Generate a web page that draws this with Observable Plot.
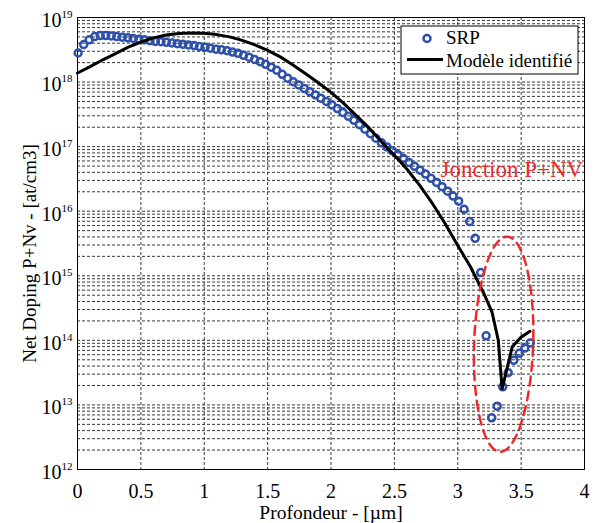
<!DOCTYPE html>
<html><head><meta charset="utf-8">
<script src="https://cdn.jsdelivr.net/npm/d3@7"></script>
<script src="https://cdn.jsdelivr.net/npm/@observablehq/plot@0.6"></script>
<style>
body{margin:0;background:#fff;}
#chart{position:relative;width:603px;height:523px;}
#chart svg text, #chart svg tspan { font-family: "Liberation Serif", "Times New Roman", Times, serif; }
</style>
</head><body><div id="chart"></div>
<script>
// ---- Data ----
const srpDepth = [0.005,0.049,0.092,0.136,0.179,0.223,0.266,0.310,0.353,0.397,0.440,0.484,0.527,0.571,0.614,0.658,0.701,0.745,0.788,0.832,0.875,0.919,0.962,1.006,1.049,1.093,1.136,1.180,1.223,1.267,1.310,1.354,1.397,1.441,1.484,1.528,1.571,1.615,1.658,1.702,1.745,1.789,1.832,1.876,1.919,1.963,2.006,2.050,2.093,2.137,2.180,2.224,2.267,2.311,2.354,2.398,2.441,2.485,2.528,2.572,2.615,2.659,2.702,2.746,2.789,2.833,2.876,2.920,2.963,3.007,3.050,3.094,3.137,3.181,3.224,3.268,3.311,3.355,3.398,3.442,3.485,3.529,3.572];
const srpLogDoping = [18.45,18.58,18.655,18.705,18.72,18.72,18.715,18.705,18.695,18.685,18.675,18.665,18.655,18.64,18.63,18.625,18.615,18.605,18.595,18.585,18.575,18.565,18.55,18.54,18.525,18.51,18.50,18.485,18.465,18.445,18.415,18.385,18.35,18.315,18.275,18.23,18.185,18.12,18.06,18.005,17.955,17.90,17.85,17.80,17.75,17.70,17.65,17.59,17.53,17.47,17.41,17.34,17.27,17.20,17.13,17.06,16.995,16.935,16.875,16.815,16.755,16.695,16.635,16.575,16.51,16.445,16.38,16.31,16.235,16.155,16.03,15.84,15.58,15.05,14.07,12.80,12.98,13.28,13.50,13.69,13.80,13.88,13.96];
const modelDepth = [0,0.1,0.2,0.3,0.4,0.5,0.6,0.7,0.8,0.9,1.0,1.1,1.2,1.3,1.4,1.5,1.6,1.7,1.8,1.9,2.0,2.1,2.2,2.3,2.4,2.5,2.6,2.7,2.8,2.9,3.0,3.1,3.2,3.27,3.32,3.35,3.43,3.50,3.57];
const modelLogDoping = [18.14,18.24,18.345,18.44,18.54,18.62,18.685,18.73,18.752,18.76,18.755,18.735,18.70,18.645,18.575,18.49,18.39,18.265,18.13,17.99,17.84,17.67,17.48,17.29,17.07,16.865,16.65,16.40,16.12,15.81,15.47,15.14,14.75,14.44,14.0,13.25,13.9,14.05,14.14];
const seriesNames = ["SRP", "Modèle identifié"];
const xTicks = [0,0.5,1,1.5,2,2.5,3,3.5,4];
const yMajorTicks = [1e12,1e13,1e14,1e15,1e16,1e17,1e18,1e19];
const yMinorMultipliers = [2,3,4,5,6,7,8,9];
const xLabel = "Profondeur - [µm]";
const yLabel = "Net Doping P+Nv - [at/cm3]";
const annotation = {label: "Jonction P+NV", depth: 3.99, logDoping: 16.65};
const junctionEllipse = {depth: 3.362, logDoping: 13.94, rDepth: 0.234, rLog: 1.664, shearDepth: 0.016, shearLog: 0.077};

// ---- Build tables ----
const srp = srpDepth.map((d, i) => ({depth: d, doping: 10 ** srpLogDoping[i]}));
const model = modelDepth.map((d, i) => ({depth: d, doping: 10 ** modelLogDoping[i]}));
const yGridTicks = [];
yMajorTicks.forEach(t => { yGridTicks.push(t); if (t < 1e19) yMinorMultipliers.forEach(m => yGridTicks.push(t * m)); });
const ellipsePts = d3.range(0, 97).map(k => {
  const a = k / 96 * 2 * Math.PI;
  const e = junctionEllipse;
  return {depth: e.depth + e.rDepth * Math.cos(a) + e.shearDepth * Math.sin(a),
          doping: 10 ** (e.logDoping + e.rLog * Math.sin(a) + e.shearLog * Math.cos(a))};
});

const blue = "#2f50aa";
const red = "#ec2a2e";
const serif = "Liberation Serif, Times New Roman, Times, serif";

const svg = Plot.plot({
  width: 603, height: 523,
  marginTop: 17, marginBottom: 54, marginLeft: 77, marginRight: 19,
  style: {fontFamily: serif, fontSize: "20px", background: "white", color: "black", overflow: "visible"},
  x: {domain: [0, 4]},
  y: {type: "log", domain: [1e12, 1e19]},
  marks: [
    Plot.gridY(yGridTicks, {stroke: "#222", strokeOpacity: 0.9, strokeWidth: 1, strokeDasharray: "3,2"}),
    Plot.gridX(xTicks, {stroke: "#222", strokeOpacity: 0.9, strokeWidth: 1, strokeDasharray: "3,2"}),
    Plot.frame({stroke: "black", strokeWidth: 1}),
    Plot.axisX(xTicks, {tickSize: 0, tickPadding: 14, tickFormat: d => String(d), label: null, fontSize: 20}),
    Plot.axisY(yMajorTicks, {tickSize: 0, tickPadding: 5, tickFormat: d => "10^" + Math.round(Math.log10(d)), label: null, dy: 3, fontSize: 20}),
    Plot.dot(srp, {x: "depth", y: "doping", r: 3.5, stroke: blue, strokeWidth: 2.5, fill: "none"}),
    Plot.line(model, {x: "depth", y: "doping", stroke: "black", strokeWidth: 3}),
    Plot.line(ellipsePts, {x: "depth", y: "doping", stroke: red, strokeWidth: 2.5, strokeDasharray: "9,6"}),
    Plot.text([annotation], {x: "depth", y: d => 10 ** d.logDoping, text: "label", textAnchor: "end", fill: red, fontSize: 23}),
    Plot.text([xLabel], {frameAnchor: "bottom", text: d => d, textAnchor: "middle", lineAnchor: "middle", dy: 43, fontSize: 19.5}),
    Plot.text([yLabel], {frameAnchor: "left", text: d => d, textAnchor: "middle", lineAnchor: "middle", rotate: -90, dx: -48, dy: 10, fontSize: 19})
  ]
});
document.getElementById("chart").append(svg);

// Superscript exponents on the y tick labels
const NS = "http://www.w3.org/2000/svg";
svg.querySelectorAll("text").forEach(t => {
  const m = /^10\^(\d+)$/.exec(t.textContent);
  if (!m) return;
  t.textContent = "";
  const base = document.createElementNS(NS, "tspan");
  base.textContent = "10";
  const sup = document.createElementNS(NS, "tspan");
  sup.setAttribute("dy", "-9");
  sup.setAttribute("font-size", "11");
  sup.textContent = m[1];
  t.append(base, sup);
});

// Legend box
const lg = d3.select(svg).append("g").attr("font-size", 19).attr("text-anchor", "start");
lg.append("rect").attr("x", 401).attr("y", 26).attr("width", 177).attr("height", 48)
  .attr("fill", "white").attr("stroke", "black").attr("stroke-width", 1);
lg.append("circle").attr("cx", 427).attr("cy", 38.5).attr("r", 3.5)
  .attr("fill", "none").attr("stroke", blue).attr("stroke-width", 2.5);
lg.append("text").attr("x", 446).attr("y", 44).text(seriesNames[0]);
lg.append("line").attr("x1", 407).attr("x2", 443).attr("y1", 59.5).attr("y2", 59.5)
  .attr("stroke", "black").attr("stroke-width", 3);
lg.append("text").attr("x", 446).attr("y", 66.5).text(seriesNames[1]);
</script>
</body></html>
